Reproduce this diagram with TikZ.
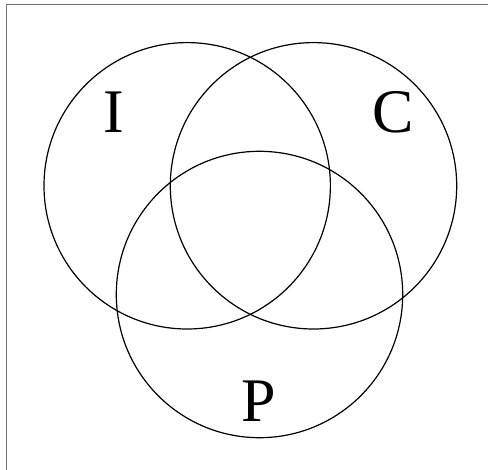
\documentclass[tikz,border=0pt]{standalone}
\usepackage{fontspec}
\setmainfont{Liberation Serif}
\usepackage{xcolor}
\usepackage{tikz}
\usetikzlibrary{positioning}

\begin{document}
\begin{tikzpicture}[x=1pt, y=-1pt,
        ring/.style={draw=black, line width=1.2pt},
        frameline/.style={draw=black!55, line width=1.6pt},
        setlabel/.style={inner sep=0pt, font=\fontsize{62}{62}\selectfont}
    ]
        \useasboundingbox (0,0) rectangle (488,470);

        % Frame
        \draw[frameline] (6.5,470) -- (6.5,4.7) -- (488,4.7);

        % Circles
        \draw[ring] (187.2,185.8) circle[radius=143.2];
        \draw[ring] (313.5,185.8) circle[radius=143.2];
        \draw[ring] (259.5,294.5) circle[radius=143.2];

        % Labels
        \node [setlabel] (iset) at (114,112.5) {I};
        \node [setlabel] (cset) at (393.5,112.5) {C};
        \node [setlabel] (pset) at (259,401.5) {P};
    \end{tikzpicture}
\end{document}
